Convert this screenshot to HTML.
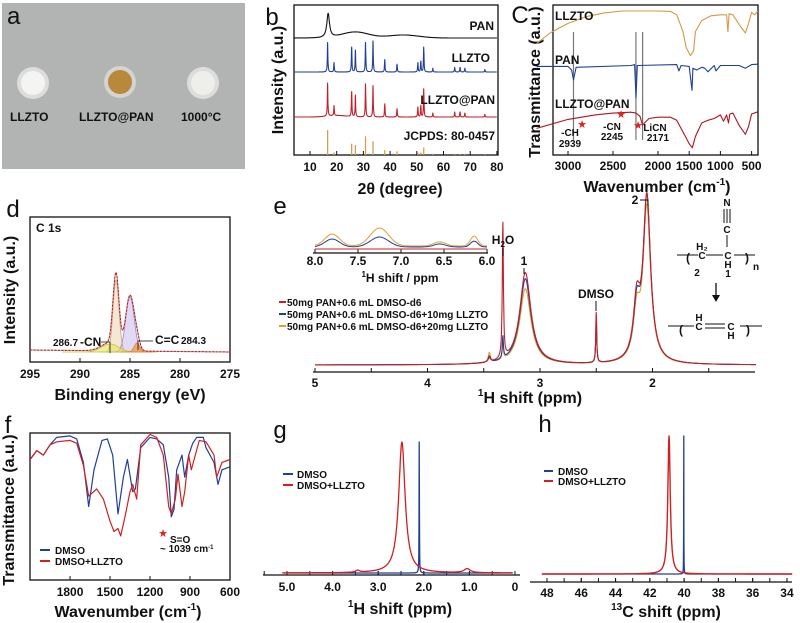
<!DOCTYPE html>
<html><head><meta charset="utf-8"><style>
html,body{margin:0;padding:0;background:#fff;}
svg{display:block;font-family:"Liberation Sans",Arial,sans-serif;}
.t{font-weight:bold;font-size:12px;fill:#111}
.ti{font-weight:bold;font-size:16px;fill:#111}
.pl{font-size:24px;fill:#111}
.sm{font-weight:bold;font-size:10px;fill:#111}
</style></head><body>
<svg id="fig" width="800" height="623" viewBox="0 0 800 623" xmlns="http://www.w3.org/2000/svg">
<rect width="800" height="623" fill="#fff"/>
<g>
<rect x="2" y="3" width="243" height="166" fill="#b2b4b3"/>
<text x="7" y="24" class="pl" font-size="28">a</text>
<circle cx="33" cy="83" r="16" fill="#ddd"/><circle cx="33" cy="83" r="12" fill="#f4f4f2"/>
<circle cx="120" cy="82" r="16" fill="#d4d4d0"/><circle cx="120" cy="82" r="12" fill="#b8893a"/>
<circle cx="203" cy="83" r="16" fill="#ddd"/><circle cx="203" cy="83" r="12" fill="#eeeeea"/>
<text x="10" y="121" class="t" font-size="13">LLZTO</text>
<text x="79" y="121" class="t" font-size="13">LLZTO@PAN</text>
<text x="181" y="121" class="t" font-size="13">1000°C</text>
</g>
<g id="gb"></g>
<g id="gc"></g>
<g id="gd"></g>
<g id="ge"></g>
<g id="gf"></g>
<g id="gg"></g>
<g id="gh"></g>
</svg>
<script>
// panel b (XRD)
var bTicks=[10,20,30,40,50,60,70,80];
var bLLZTOpos=[16.6,19.0,25.6,27.0,30.8,33.6,38.0,42.6,50.4,51.5,52.6,56.0,64.2,66.2,68.0,75.5];
var bLLZTOint=[95,30,80,70,95,100,40,25,30,35,80,12,15,15,12,8];
var bCompInt=[100,30,75,65,100,95,40,25,30,35,85,12,15,15,12,8];
var bJCPDSint=[100,10,45,40,75,55,20,15,10,10,30,5,5,5,5,4];
var bPANpeak=[16.8,100];
// panel c (FTIR)
var cTicks=[3000,2500,2000,1500,1000,500];
var cLLZTO=[[3350,30],[3200,52],[3000,72],[2800,86],[2600,94],[2400,98],[2000,98],[1800,97],[1700,90],[1600,55],[1550,22],[1480,5],[1430,15],[1400,55],[1300,78],[1150,88],[1000,90],[900,90],[880,55],[860,92],[800,90],[700,70],[600,52],[550,72],[500,95],[450,90],[400,98]];
var cPAN=[[3350,88],[3000,88],[2960,80],[2939,58],[2910,86],[2300,90],[2260,92],[2245,18],[2230,90],[1700,92],[1665,78],[1630,90],[1500,88],[1455,35],[1440,84],[1380,80],[1300,86],[1250,84],[1200,76],[1100,90],[1070,78],[1000,90],[700,90],[600,84],[500,92],[400,93]];
var cComp=[[3350,48],[3000,68],[2700,78],[2500,82],[2300,84],[2245,82],[2200,75],[2171,55],[2150,60],[2100,70],[2000,73],[1800,73],[1700,66],[1600,40],[1500,14],[1450,5],[1400,30],[1300,60],[1200,66],[1100,70],[1000,78],[950,64],[900,78],[870,60],[850,80],[800,82],[700,55],[600,35],[550,52],[500,80],[400,85]];
// panel d (XPS)
var dTicks=[295,290,285,280,275];
var dCenters=[286.4,285.0,287.0,284.3];
var dHeights=[72,55,8,9];
var dWidths=[0.42,0.6,1.2,0.4];
// panel e
var eTicks=[5,4,3,2];
var eCenters=[3.45,3.33,3.13,2.5,2.14,2.05];
var eRed=[4,135,92,50,55,165];
var eBlue=[6,22,86,46,50,165];
var eOrange=[10,18,76,48,45,155];
var eInsetTicks=[8.0,7.5,7.0,6.5,6.0];
var eInsetCenters=[7.8,7.25,6.55,6.15];
var eInsetBlue=[8,10,3,6];
var eInsetOrange=[12,18,4,10];
// panel f
var fTicks=[1800,1500,1200,900,600];
var fDMSO=[[2100,82],[2050,88],[2000,85],[1950,92],[1900,97],[1800,98],[1750,96],[1700,80],[1660,50],[1620,75],[1560,95],[1520,96],[1480,85],[1440,45],[1400,70],[1370,82],[1330,60],[1310,62],[1270,90],[1200,97],[1150,96],[1100,92],[1060,70],[1040,43],[1020,48],[1000,75],[960,85],[940,70],[910,85],[880,93],[850,97],[800,97],[780,90],[720,80],[690,65],[660,75],[600,77]];
var fMix=[[2100,82],[2050,88],[2000,85],[1950,92],[1900,94],[1800,95],[1750,93],[1700,78],[1660,57],[1600,62],[1550,55],[1500,40],[1470,33],[1440,35],[1420,30],[1390,42],[1350,60],[1330,65],[1300,55],[1270,92],[1200,99],[1150,97],[1100,85],[1060,50],[1040,45],[1010,55],[990,72],[960,50],[940,60],[910,85],[890,75],[860,85],[830,95],[780,94],[720,85],[700,70],[660,80],[600,82]];
// panel g
var gTicks=[5.0,4.0,3.0,2.0,1.0,0];
var gRedCenters=[2.48,1.05,3.45];
var gRedHeights=[131,4,2];
var gBluePos=2.1, gBlueH=131;
// panel h
var hTicks=[48,46,44,42,40,38,36,34];
var hRedPos=40.88, hRedH=138, hBluePos=40.02, hBlueH=138;

var NS="http://www.w3.org/2000/svg";
function mk(parent,tag,attrs,text){var e=document.createElementNS(NS,tag);for(var k in attrs)e.setAttribute(k,attrs[k]);if(text!==undefined)e.textContent=text;parent.appendChild(e);return e;}
function path(parent,pts,color,w,name){var d='';for(var i=0;i<pts.length;i++){d+=(i?'L':'M')+pts[i][0].toFixed(1)+' '+pts[i][1].toFixed(1);}
var e=mk(parent,'path',{d:d,fill:'none',stroke:color,'stroke-width':w||1.2,'stroke-linejoin':'round'});


return e;}
function sq(a){return a*a;}
function lor(x,c,w){return 1/(1+sq((x-c)/w));}
function gau(x,c,w){return Math.exp(-sq((x-c)/w));}
function label(parent,x,y,txt,cls,anchor,name,extra){var a={x:x,y:y,'class':cls,'text-anchor':anchor||'middle'};if(extra){for(var k in extra)a[k]=extra[k];}
var e=mk(parent,'text',a,txt);


return e;}
function rlabel(parent,x,y,txt,name,size){var e=mk(parent,'text',{x:0,y:0,'class':'ti','text-anchor':'middle',transform:'translate('+x+','+y+') rotate(-90)','font-size':size||16},txt);


return e;}
function box(parent,x,y,w,h,name){var e=mk(parent,'rect',{x:x,y:y,width:w,height:h,fill:'none',stroke:'#111','stroke-width':1.3});

}
function xaxisTicks(parent,ticks,xf,y,ly,fmt,name,len){for(var i=0;i<ticks.length;i++){var t=ticks[i];var x=xf(t);mk(parent,'line',{x1:x,x2:x,y1:y,y2:y-(len||4),stroke:'#111','stroke-width':1});
label(parent,x,ly,fmt?fmt(t):String(t),'t','middle',name);}}
function range(a,b,s){var r=[];if(s>0){for(var v=a;v<=b;v+=s)r.push(v);}else{for(var v2=a;v2>=b;v2+=s)r.push(v2);}return r;}
function sumAt(v,cs,hs,ws,fn){var s=0;for(var i=0;i<cs.length;i++)s+=hs[i]*fn(v,cs[i],ws[i]);return s;}
function rep(n,val){var r=[];for(var i=0;i<n;i++)r.push(val);return r;}

// panel b
try{(function(){var g=document.getElementById('gb');
function X(v){return 310+(v-10)*2.67;}
label(g,272,25,'b','pl','middle','panel-b-letter',{'font-size':28});
box(g,294,5,204,150,'panel-b-frame');
xaxisTicks(g,bTicks,X,155,171,null,'b-x-tick-label');
label(g,400,194,'2θ (degree)','ti','middle','b-x-axis-title');
rlabel(g,283,80,'Intensity (a.u.)','b-y-axis-title');
var xs=range(4,80,0.08);
path(g,xs.map(function(v){return [X(v),38-bPANpeak[1]*0.24*lor(v,bPANpeak[0],0.6)-6*gau(v,27,7)-3*gau(v,45,8)];}),'#111',1.1,'pan-trace');
var xs2=range(4,80,0.04);var ws=rep(bLLZTOpos.length,0.12);
path(g,xs2.map(function(v){return [X(v),72-0.31*sumAt(v,bLLZTOpos,bLLZTOint,ws,lor)];}),'#1f3f99',1.1,'llzto-trace');
path(g,xs2.map(function(v){return [X(v),117-0.33*sumAt(v,bLLZTOpos,bCompInt,ws,lor)-1.5*gau(v,20,5)];}),'#c0202a',1.1,'llzto-pan-trace');
for(var i=0;i<bLLZTOpos.length;i++){var e=mk(g,'line',{x1:X(bLLZTOpos[i]),x2:X(bLLZTOpos[i]),y1:155,y2:155-bJCPDSint[i]*0.25,stroke:'#d4a050','stroke-width':1.3});

}
label(g,494,30,'PAN','t','end','label-pan');
label(g,490,62,'LLZTO','t','end','label-llzto');
label(g,495,104,'LLZTO@PAN','t','end','label-llzto-pan');
label(g,495,140,'JCPDS: 80-0457','t','end','label-jcpds');
})();}catch(err){}

// panel c
try{(function(){var g=document.getElementById('gc');
function X(v){return v>=2000?658-(v-2000)*0.09:658+(2000-v)*0.0624;}
label(g,520,23,'C','pl','middle','panel-c-letter',{'font-size':24});
box(g,553,5,205,150,'panel-c-frame');
xaxisTicks(g,cTicks,X,155,170,null,'c-x-tick-label');
var t=label(g,657,192,'Wavenumber (cm','ti','middle','c-x-axis-title');
mk(t,'tspan',{'font-size':10,dy:-7},'-1');mk(t,'tspan',{dy:7},')');
rlabel(g,540,82,'Transmittance (a.u.)','c-y-axis-title');
[2939,2245,2171].forEach(function(w){var e=mk(g,'line',{x1:X(w),x2:X(w),y1:32,y2:140,stroke:'#777','stroke-width':1.2});

});
path(g,cLLZTO.map(function(p){return [X(p[0]),10+(100-p[1])*0.48];}),'#d49a45',1.1,'llzto-ftir');
path(g,cPAN.map(function(p){return [X(p[0]),61+(100-p[1])*0.45];}),'#1f3f99',1.1,'pan-ftir');
path(g,cComp.map(function(p){return [X(p[0]),105+(100-p[1])*0.45];}),'#b0151f',1.1,'llzto-pan-ftir');
label(g,555,20,'LLZTO','t','start','label-llzto');
label(g,555,64,'PAN','t','start','label-pan');
label(g,555,108,'LLZTO@PAN','t','start','label-llzto-pan');
label(g,570,136,'-CH','sm','middle','label-ch');label(g,570,147,'2939','sm','middle','label-2939');
label(g,612,130,'-CN','sm','middle','label-cn');label(g,612,140,'2245','sm','middle','label-2245');
label(g,655,131,'LiCN','sm','middle','label-licn');label(g,658,141,'2171','sm','middle','label-2171');
[[582,128],[621,118],[638,129]].forEach(function(p){var e=mk(g,'text',{x:p[0],y:p[1],fill:'#e02020','font-size':11,'text-anchor':'middle'},'★');

});
})();}catch(err){}

// panel d
try{(function(){var g=document.getElementById('gd');
function X(v){return 30+(295-v)*10;}
label(g,13,217,'d','pl','middle','panel-d-letter',{'font-size':28});
box(g,30,217,200,145,'panel-d-frame');
xaxisTicks(g,dTicks,X,362,378,null,'d-x-tick-label');
label(g,130,400,'Binding energy (eV)','ti','middle','d-x-axis-title');
rlabel(g,15,290,'Intensity (a.u.)','d-y-axis-title');
var base=352, xs=range(295,275,-0.05);
var fills=['rgba(235,200,160,0.45)','rgba(190,170,230,0.45)','rgba(230,230,90,0.6)','rgba(240,150,60,0.7)'];
var strokes=['#c9a37a','#9a85c8','#c8c040','#e08030'];
dCenters.forEach(function(c,i){var pts=xs.filter(function(v){return Math.abs(v-c)<4*dWidths[i];}).map(function(v){return [X(v),base-dHeights[i]*gau(v,c,dWidths[i])];});
var d='M'+pts.map(function(p){return p[0].toFixed(1)+' '+p[1].toFixed(1);}).join('L')+'Z';
var e=mk(g,'path',{d:d,fill:fills[i],stroke:strokes[i],'stroke-width':0.8});

});
var env=xs.map(function(v){return [X(v),base-(v-275)*0.1-sumAt(v,dCenters,dHeights,dWidths,gau)];});
path(g,env,'#e09090',1.2,'xps-raw');
path(g,env,'#8a1010',0.8,'xps-envelope').setAttribute('stroke-dasharray','2 1.5');
label(g,36,232,'C 1s','t','start','label-c1s');
label(g,53,346,'286.7','sm','start','label-2867');label(g,80,346,'-CN','t','start','label-cn');
mk(g,'polyline',{points:'101,342 110,342 110,353',fill:'none',stroke:'#111','stroke-width':0.8});
label(g,155,344,'C=C','t','start','label-cc');label(g,181,344,'284.3','sm','start','label-2843');
mk(g,'polyline',{points:'153,341 138,341 138,350',fill:'none',stroke:'#111','stroke-width':0.8});
})();}catch(err){}

// panel e
try{(function(){var g=document.getElementById('ge');
function X(v){return 315+(5-v)*112.5;}
label(g,280,214,'e','pl','middle','panel-e-letter',{'font-size':28});
mk(g,'line',{x1:313,x2:755,y1:372,y2:372,stroke:'#111','stroke-width':1.3});
[5,4.5,4,3.5,3,2.5,2,1.5].forEach(function(v){mk(g,'line',{x1:X(v),x2:X(v),y1:372,y2:368,stroke:'#111'});});
xaxisTicks(g,eTicks,X,372,387,null,'e-x-tick-label');
var tt=label(g,530,403,'','ti','middle','e-x-axis-title');
mk(tt,'tspan',{'font-size':10,dy:-7},'1');mk(tt,'tspan',{dy:7},'H shift (ppm)');
var W=[0.012,0.006,0.06,0.005,0.035,0.04];
var xs=range(5,1.08,-0.002);
function spec(hs){return xs.map(function(v){return [X(v),365-sumAt(v,eCenters,hs,W,lor)];});}
path(g,spec(eOrange),'#e0a030',1.1,'series-20mg-llzto');
path(g,spec(eBlue),'#1f3f99',1.1,'series-10mg-llzto');
path(g,spec(eRed),'#c0202a',1.1,'series-pan');
function XI(v){return 315+(8-v)*86;}
mk(g,'line',{x1:313,x2:488,y1:253,y2:253,stroke:'#111','stroke-width':1.2});
eInsetTicks.forEach(function(v){mk(g,'line',{x1:XI(v),x2:XI(v),y1:253,y2:249,stroke:'#111'});label(g,XI(v),265,v.toFixed(1),'t','middle','e-inset-tick-label');});
var it=label(g,400,282,'','t','middle','e-inset-axis-title',{'font-size':13});
mk(it,'tspan',{'font-size':8,dy:-5},'1');mk(it,'tspan',{dy:5},'H shift / ppm');
var xi=range(8,6,-0.02);var iw=[0.12,0.15,0.1,0.06];
path(g,xi.map(function(v){return [XI(v),246-sumAt(v,eInsetCenters,eInsetOrange,iw,gau)];}),'#e0a030',1,'inset-orange');
path(g,xi.map(function(v){return [XI(v),247-sumAt(v,eInsetCenters,eInsetBlue,iw,gau)];}),'#1f3f99',1,'inset-blue');
path(g,xi.map(function(v){return [XI(v),249];}),'#d02020',1,'inset-red');
[['#c0202a','50mg PAN+0.6 mL DMSO-d6'],['#1f3f99','50mg PAN+0.6 mL DMSO-d6+10mg LLZTO'],['#e0a030','50mg PAN+0.6 mL DMSO-d6+20mg LLZTO']].forEach(function(s,i){
mk(g,'line',{x1:279,x2:286,y1:302+i*12,y2:302+i*12,stroke:s[0],'stroke-width':2});
label(g,287,306+i*12,s[1],'sm','start','legend-entry');});
var h2o=label(g,503,244,'H','t','middle','label-h2o');mk(h2o,'tspan',{'font-size':8,dy:3},'2');mk(h2o,'tspan',{dy:-3},'O');
mk(g,'line',{x1:503,x2:503,y1:248,y2:256,stroke:'#111'});
label(g,524,265,'1','t','middle','label-peak-1');mk(g,'line',{x1:524,x2:524,y1:268,y2:274,stroke:'#111'});
label(g,596,298,'DMSO','t','middle','label-dmso');mk(g,'line',{x1:596,x2:596,y1:301,y2:311,stroke:'#111'});
label(g,635,204,'2','t','middle','label-peak-2');mk(g,'polyline',{points:'640,200 648,200 648,206',fill:'none',stroke:'#111'});
var sg=mk(g,'g',{});


label(sg,727,206,'N','sm','middle','atom-n');
[724,727,730].forEach(function(x){mk(sg,'line',{x1:x,x2:x,y1:209,y2:223,stroke:'#111'});});
label(sg,727,233,'C','sm','middle','atom-c');mk(sg,'line',{x1:727,x2:727,y1:235,y2:247,stroke:'#111'});
mk(sg,'line',{x1:677,x2:698,y1:255,y2:255,stroke:'#111'});mk(sg,'line',{x1:706,x2:723,y1:255,y2:255,stroke:'#111'});mk(sg,'line',{x1:734,x2:755,y1:255,y2:255,stroke:'#111'});
label(sg,688,262,'(','t','middle','paren',{'font-size':26,'font-weight':'normal'});label(sg,747,262,')','t','middle','paren',{'font-size':26,'font-weight':'normal'});
label(sg,702,250,'H₂','sm','middle','atom-h2');label(sg,702,259,'C','sm','middle','atom-c');label(sg,728,259,'C','sm','middle','atom-c');
label(sg,728,268,'H','sm','middle','atom-h');label(sg,728,277,'1','sm','middle','num-1');label(sg,697,276,'2','sm','middle','num-2');label(sg,756,270,'n','sm','middle','n');
mk(sg,'line',{x1:716,x2:716,y1:283,y2:298,stroke:'#111','stroke-width':1.3});mk(sg,'path',{d:'M712,295 L720,295 L716,302Z',fill:'#111'});
mk(sg,'line',{x1:668,x2:694,y1:326,y2:326,stroke:'#111'});mk(sg,'line',{x1:705,x2:725,y1:324,y2:324,stroke:'#111'});mk(sg,'line',{x1:705,x2:725,y1:328,y2:328,stroke:'#111'});mk(sg,'line',{x1:740,x2:762,y1:326,y2:326,stroke:'#111'});
label(sg,681,334,'(','t','middle','paren',{'font-size':26,'font-weight':'normal'});label(sg,748,334,')','t','middle','paren',{'font-size':26,'font-weight':'normal'});
label(sg,699,321,'H','sm','middle','atom-h');label(sg,699,330,'C','sm','middle','atom-c');label(sg,731,330,'C','sm','middle','atom-c');label(sg,731,339,'H','sm','middle','atom-h');
})();}catch(err){}

// panel f
try{(function(){var g=document.getElementById('gf');
function X(v){return 230-(v-600)*0.1333;}
function Y(T){return 433+(100-T)*1.47;}
label(g,8,433,'f','pl','middle','panel-f-letter',{'font-size':28});
box(g,30,433,200,147,'panel-f-frame');
xaxisTicks(g,fTicks,X,580,596,null,'f-x-tick-label');
var t=label(g,128,617,'Wavenumber (cm','ti','middle','f-x-axis-title');
mk(t,'tspan',{'font-size':10,dy:-7},'-1');mk(t,'tspan',{dy:7},')');
rlabel(g,14,510,'Transmittance (a.u.)','f-y-axis-title');
path(g,fDMSO.map(function(p){return [X(p[0]),Y(p[1])];}),'#1f3f99',1.2,'dmso-ftir');
path(g,fMix.map(function(p){return [X(p[0]),Y(p[1])];}),'#d02020',1.2,'dmso-llzto-ftir');
mk(g,'line',{x1:40,x2:50,y1:550,y2:550,stroke:'#1f3f99','stroke-width':2});label(g,55,554,'DMSO','sm','start','legend-dmso');
mk(g,'line',{x1:40,x2:50,y1:561,y2:561,stroke:'#d02020','stroke-width':2});label(g,55,565,'DMSO+LLZTO','sm','start','legend-dmso-llzto');
mk(g,'text',{x:163,y:537,fill:'#e02020','font-size':11,'text-anchor':'middle'},'★');
label(g,170,543,'S=O','sm','start','label-so');
var s=label(g,160,552,'~ 1039 cm','sm','start','label-1039',{'font-size':8});mk(s,'tspan',{'font-size':6,dy:-3},'-1');
})();}catch(err){}

// panel g
try{(function(){var g=document.getElementById('gg');
function X(v){return 515-v*45.6;}
label(g,280,438,'g','pl','middle','panel-g-letter',{'font-size':28});
mk(g,'line',{x1:263,x2:520,y1:575,y2:575,stroke:'#111','stroke-width':1.3});
for(var v=5.5;v>=0;v-=0.5)mk(g,'line',{x1:X(v),x2:X(v),y1:575,y2:571,stroke:'#111'});
xaxisTicks(g,gTicks,X,575,591,function(t){return t===0?'0':t.toFixed(1);},'g-x-tick-label');
var tt=label(g,400,614,'','ti','middle','g-x-axis-title');
mk(tt,'tspan',{'font-size':10,dy:-7},'1');mk(tt,'tspan',{dy:7},'H shift (ppm)');
var xs=range(5.1,0.05,-0.005);var W=[0.085,0.08,0.05];
path(g,xs.map(function(v){return [X(v),573-gBlueH*lor(v,gBluePos,0.004)];}),'#1f3f99',1.3,'dmso-trace');
path(g,xs.map(function(v){return [X(v),573-sumAt(v,gRedCenters,gRedHeights,W,lor)];}),'#d02020',1.3,'dmso-llzto-trace');
mk(g,'line',{x1:283,x2:293,y1:474,y2:474,stroke:'#1f3f99','stroke-width':2});label(g,297,478,'DMSO','sm','start','legend-dmso');
mk(g,'line',{x1:283,x2:293,y1:485,y2:485,stroke:'#d02020','stroke-width':2});label(g,297,489,'DMSO+LLZTO','sm','start','legend-dmso-llzto');
})();}catch(err){}

// panel h
try{(function(){var g=document.getElementById('gh');
function X(v){return 547+(48-v)*17.14;}
label(g,545,432,'h','pl','middle','panel-h-letter',{'font-size':28});
mk(g,'line',{x1:530,x2:792,y1:582,y2:582,stroke:'#111','stroke-width':1.3});
for(var v=48;v>=34;v-=1)mk(g,'line',{x1:X(v),x2:X(v),y1:582,y2:578,stroke:'#111'});
xaxisTicks(g,hTicks,X,582,597,null,'h-x-tick-label');
var tt=label(g,666,617,'','ti','middle','h-x-axis-title');
mk(tt,'tspan',{'font-size':10,dy:-7},'13');mk(tt,'tspan',{dy:7},'C shift (ppm)');
var xs=range(48.3,33.7,-0.01);
path(g,xs.map(function(v){return [X(v),574-hBlueH*lor(v,hBluePos,0.006)];}),'#1f3f99',1.3,'dmso-trace');
path(g,xs.map(function(v){return [X(v),574-hRedH*lor(v,hRedPos,0.085)];}),'#d02020',1.4,'dmso-llzto-trace');
mk(g,'line',{x1:544,x2:553,y1:471,y2:471,stroke:'#1f3f99','stroke-width':2});label(g,558,475,'DMSO','sm','start','legend-dmso');
mk(g,'line',{x1:544,x2:553,y1:481,y2:481,stroke:'#d02020','stroke-width':2});label(g,558,485,'DMSO+LLZTO','sm','start','legend-dmso-llzto');
})();}catch(err){}
</script>
</body></html>
